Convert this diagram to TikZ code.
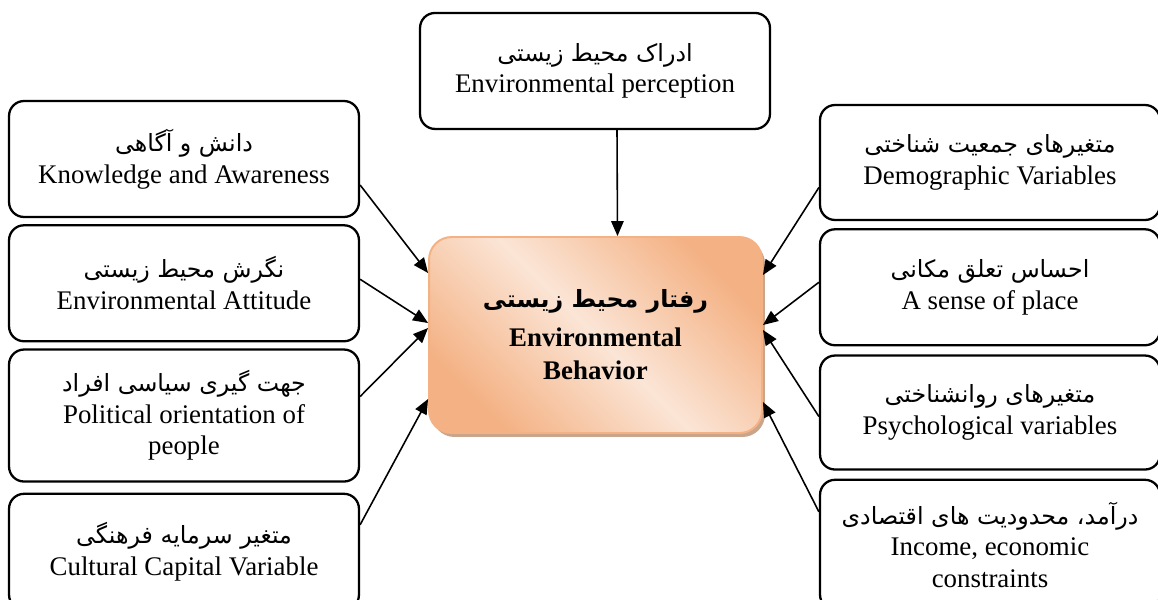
\documentclass[tikz,border=0pt]{standalone}
\usepackage{fontspec}
\setmainfont{Liberation Serif}
\newfontfamily\farsi[Script=Arabic]{DejaVu Sans}
\TeXXeTstate=1
\usepackage{tikz}
\usetikzlibrary{shapes,arrows.meta,positioning,shadows}
\newcommand{\prs}[1]{{\farsi\fontsize{13.5}{18}\selectfont\beginR #1\endR}}
\definecolor{behdark}{HTML}{F4B183}
\definecolor{behlight}{HTML}{FBE5D6}
\definecolor{behshadow}{HTML}{C9A58C}
\tikzset{factor/.style={draw, line width=1.3pt, rounded corners=0.3cm,
    minimum width=7cm, minimum height=2.32cm, align=center,
    font=\fontsize{15.3}{18}\selectfont},
  behbox/.style={draw=behdark, line width=1.1pt, rounded corners=0.45cm,
    minimum width=6.66cm, minimum height=3.92cm, align=center,
    top color=behdark, bottom color=behdark, middle color=behlight,
    shading angle=-45,
    drop shadow={shadow xshift=0.06cm, shadow yshift=-0.08cm, fill=behshadow, opacity=1},
    font=\fontsize{15.3}{19}\selectfont\bfseries},
  >={Triangle[length=0.3cm, width=0.25cm]}
}

\begin{document}
\begin{tikzpicture}[x=0.02cm, y=-0.02cm, node distance=0.12cm]
  \useasboundingbox (0,0) rectangle (1158,599);
  \node[behbox] (beh) at (595.5,335) {{\bfseries\prs{رفتار محیط زیستی}}\\[3pt] Environmental\\ Behavior};
  \node[factor] (perc) [above=2.12cm of beh, xshift=-0.01cm] {\prs{ادراک محیط زیستی}\\ Environmental perception};
  \node[factor] (know) at (184,159) {\prs{دانش و آگاهی}\\ Knowledge and Awareness};
  \node[factor] (att) [below=of know] {\prs{نگرش محیط زیستی}\\ Environmental Attitude};
  \node[factor, minimum height=2.64cm] (pol) [below=of att] {\prs{جهت گیری سیاسی افراد}\\ Political orientation of\\ people};
  \node[factor] (cult) [below=0.2cm of pol] {\prs{متغیر سرمایه فرهنگی}\\ Cultural Capital Variable};
  \node[factor, minimum width=6.8cm, minimum height=2.3cm] (demo) at (990,162.5) {\prs{متغیرهای جمعیت شناختی}\\ Demographic Variables};
  \node[factor, minimum width=6.8cm] (place) [below=0.14cm of demo] {\prs{احساس تعلق مکانی}\\ A sense of place};
  \node[factor, minimum width=6.8cm, minimum height=2.28cm] (psy) [below=0.16cm of place] {\prs{متغیرهای روانشناختی}\\ Psychological variables};
  \node[factor, minimum width=6.8cm, minimum height=2.6cm] (inc) [below=0.16cm of psy] {\prs{درآمد، محدودیت های اقتصادی}\\ Income, economic\\ constraints};
  \path[->, line width=0.9pt]
    ([xshift=0.44cm]perc.south) edge ([xshift=0.44cm]beh.north)
    ([yshift=-0.52cm]know.east) edge ([yshift=1.24cm]beh.west)
    ([yshift=0.08cm]att.east) edge ([yshift=0.24cm]beh.west)
    ([yshift=0.38cm]pol.east) edge ([yshift=0.14cm]beh.west)
    ([yshift=0.54cm]cult.east) edge ([yshift=-1.28cm]beh.west)
    ([yshift=-0.5cm]demo.west) edge ([yshift=1.2cm]beh.east)
    ([yshift=0.1cm]place.west) edge ([yshift=0.2cm]beh.east)
    ([yshift=-0.08cm]psy.west) edge ([yshift=0.1cm]beh.east)
    ([yshift=0.66cm]inc.west) edge ([yshift=-1.34cm]beh.east);
\end{tikzpicture}
\end{document}
